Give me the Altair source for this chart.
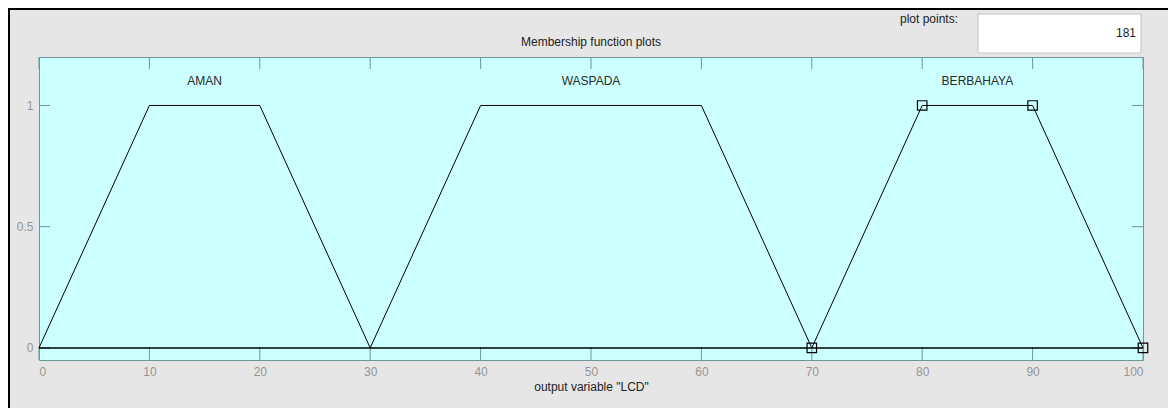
import altair as alt
import pandas as pd

# Membership functions (trapezoids) of output variable "LCD"
mf_names = ["AMAN", "WASPADA", "BERBAHAYA"]
mf_x = [[0, 10, 20, 30], [30, 40, 60, 70], [70, 80, 90, 100]]
mf_y = [[0, 1, 1, 0], [0, 1, 1, 0], [0, 1, 1, 0]]
label_x = [15, 50, 85]
label_y = [1.1, 1.1, 1.1]
selected = "BERBAHAYA"

x_ticks = [0, 10, 20, 30, 40, 50, 60, 70, 80, 90, 100]
y_ticks = [0, 0.5, 1]
baseline_x = [0, 100]
baseline_y = [0, 0]

W, H = 1104, 303
FONT = "Liberation Sans"

rows = []
for n, xs, ys in zip(mf_names, mf_x, mf_y):
    for i, (a, b) in enumerate(zip(xs, ys)):
        rows.append({"name": n, "x": a, "y": b, "o": i})
mf = pd.DataFrame(rows)
sel = mf[mf["name"] == selected]
labels = pd.DataFrame({"name": mf_names, "x": label_x, "y": label_y})
base_df = pd.DataFrame({"x": baseline_x, "y": baseline_y, "o": [0, 1]})
xt = pd.DataFrame({"x": x_ticks})
yt = pd.DataFrame({"y": y_ticks})

xscale = alt.Scale(domain=[0, 100], nice=False, zero=False)
yscale = alt.Scale(domain=[-0.05, 1.2], nice=False, zero=False)

xaxis = alt.Axis(values=x_ticks, ticks=False, domain=False, grid=False,
                 labelColor="#959595", labelFontSize=12, labelFont=FONT,
                 labelPadding=6, title='output variable "LCD"',
                 titleFont=FONT, titleFontSize=12, titleFontWeight="normal",
                 titleColor="#222222", titlePadding=4)
yaxis = alt.Axis(values=y_ticks, ticks=False, domain=False, grid=False,
                 labelColor="#959595", labelFontSize=12, labelFont=FONT,
                 labelPadding=6, title=None, format="~g")

lines = alt.Chart(mf).mark_line(color="black", strokeWidth=1).encode(
    x=alt.X("x:Q", scale=xscale, axis=xaxis),
    y=alt.Y("y:Q", scale=yscale, axis=yaxis),
    detail="name:N",
    order="o:Q",
)

baseline = alt.Chart(base_df).mark_line(color="black", strokeWidth=1.5).encode(
    x=alt.X("x:Q", scale=xscale),
    y=alt.Y("y:Q", scale=yscale),
    order="o:Q",
)

markers = alt.Chart(sel).mark_point(shape="square", size=90, color="black",
                                    filled=False, strokeWidth=1.2, opacity=1).encode(
    x=alt.X("x:Q", scale=xscale),
    y=alt.Y("y:Q", scale=yscale),
)

mf_labels = alt.Chart(labels).mark_text(font=FONT, fontSize=12, color="#2a2a2a").encode(
    x=alt.X("x:Q", scale=xscale),
    y=alt.Y("y:Q", scale=yscale),
    text="name:N",
)

TICK_C = "#6f9696"
top_ticks = alt.Chart(xt).mark_rule(color=TICK_C, strokeWidth=1).encode(
    x=alt.X("x:Q", scale=xscale), y=alt.value(0), y2=alt.value(12))
bot_ticks = alt.Chart(xt).mark_rule(color=TICK_C, strokeWidth=1).encode(
    x=alt.X("x:Q", scale=xscale), y=alt.value(H), y2=alt.value(H - 13))
left_ticks = alt.Chart(yt).mark_rule(color=TICK_C, strokeWidth=1).encode(
    y=alt.Y("y:Q", scale=yscale), x=alt.value(0), x2=alt.value(11))
right_ticks = alt.Chart(yt).mark_rule(color=TICK_C, strokeWidth=1).encode(
    y=alt.Y("y:Q", scale=yscale), x=alt.value(W), x2=alt.value(W - 11))

one = pd.DataFrame({"k": [0]})
title = alt.Chart(one).mark_text(font=FONT, fontSize=12, color="#222222").encode(
    x=alt.value(W / 2), y=alt.value(-15), text=alt.value("Membership function plots"))
pp_label = alt.Chart(one).mark_text(font=FONT, fontSize=12, color="#222222").encode(
    x=alt.value(890), y=alt.value(-38), text=alt.value("plot points:"))
box = alt.Chart(one).mark_rect(fill="white", stroke="#c4c4c4", strokeWidth=1).encode(
    x=alt.value(939), x2=alt.value(1102), y=alt.value(-43), y2=alt.value(-4))
pp_value = alt.Chart(one).mark_text(font=FONT, fontSize=12, color="#222222",
                                    align="right").encode(
    x=alt.value(1097), y=alt.value(-24), text=alt.value("181"))
frame_left = alt.Chart(one).mark_rule(color="black", strokeWidth=2).encode(
    x=alt.value(-30), y=alt.value(-49), y2=alt.value(H + 60))
frame_top = alt.Chart(one).mark_rule(color="black", strokeWidth=2).encode(
    y=alt.value(-48), x=alt.value(-31), x2=alt.value(W + 40))

chart = alt.layer(
    frame_left, frame_top, box, pp_label, pp_value, title,
    top_ticks, bot_ticks, left_ticks, right_ticks,
    baseline, lines, markers, mf_labels,
).properties(
    width=W, height=H,
    autosize=alt.AutoSizeParams(type="none"),
    padding={"left": 31, "top": 49, "right": 25, "bottom": 48},
    background="#e6e6e6",
).configure_view(fill="#ccffff", stroke=TICK_C, strokeWidth=1)

chart.save("out.html", embed_options={"renderer": "svg", "actions": False})
